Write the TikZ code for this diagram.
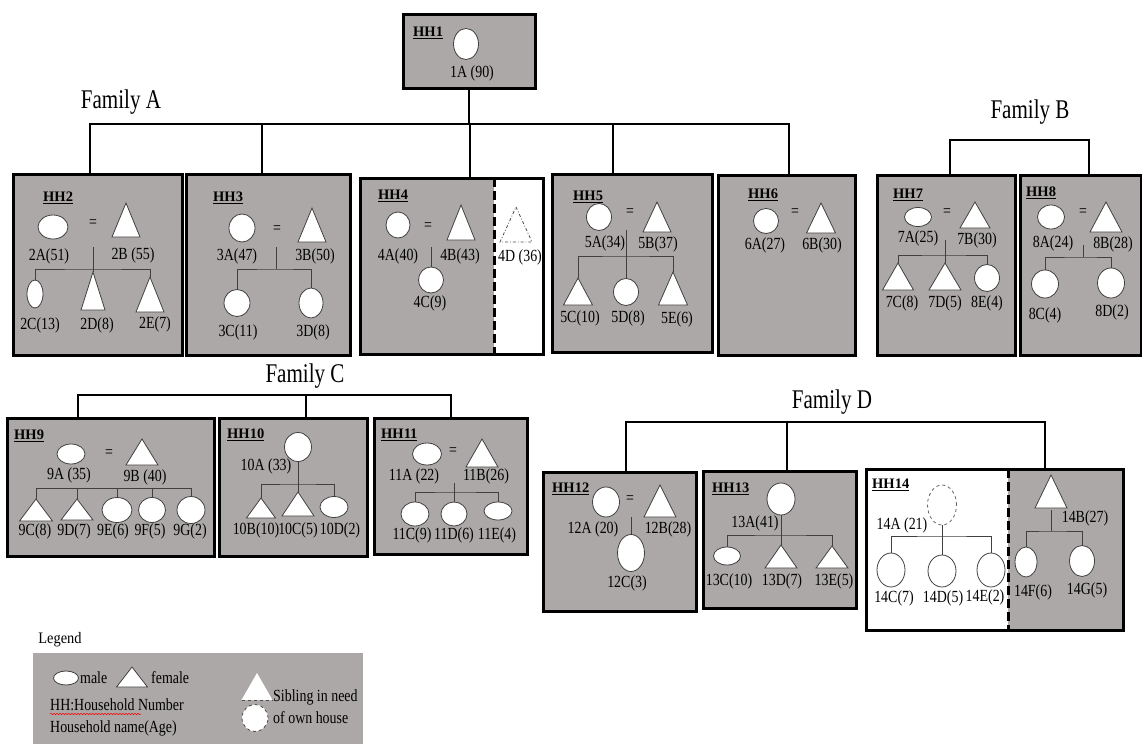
\documentclass[tikz,border=0pt]{standalone}
\usepackage{fontspec}
\setmainfont{Liberation Serif}
\newfontfamily\lbf[FakeStretch=0.82]{Liberation Serif}
\newfontfamily\fmf[FakeStretch=0.78]{Liberation Serif}
\newfontfamily\lgf[FakeStretch=0.9]{Liberation Serif}
\usetikzlibrary{shapes.geometric,decorations.pathmorphing}
\definecolor{hhgrey}{RGB}{172,168,168}
\newcommand\hhu[1]{\setbox0\hbox{\bfseries #1}\rlap{\rule[-2.6pt]{\wd0}{1.3pt}}\box0}
\newcommand\tri[5]{\draw[shp] (#2,#3) -- ++(#4,#5) -- ++(-2*#4,0) -- cycle; \coordinate (#1) at (#2,#3);}
\newcommand\pers[5]{\node[ell,minimum width=2*#4,minimum height=2*#5] (#1) at (#2,#3) {};}
\newcommand\lab[4]{\node[lab] (#1) at (#2,#3) {#4};}
\newcommand\hbx[5]{\node[hhbox,minimum width=#4-#2,minimum height=#5-#3] (#1) at (#2,#3) {};}
\tikzset{
 hhbox/.style={draw=black,line width=3pt,fill=hhgrey,rectangle,inner sep=0pt,outer sep=0pt,anchor=north west},
 fam/.style={line width=2.8pt,black},
 kin/.style={line width=0.8pt,black!75},
 shp/.style={draw=black!75,line width=0.8pt,fill=white},
 ell/.style={ellipse,shp,inner sep=0pt,outer sep=0pt},
 lab/.style={inner sep=0pt,font=\lbf\fontsize{17}{19}\selectfont},
 hhl/.style={inner sep=0pt,anchor=west,font=\fontsize{14.5}{16}\selectfont},
 famlab/.style={inner sep=0pt,font=\fmf\fontsize{27}{30}\selectfont},
 sepline/.style={line width=3pt,dash pattern=on 9pt off 4pt},
}
\begin{document}
\begin{tikzpicture}[x=1pt,y=-1pt]
\useasboundingbox (0,0) rectangle (1142,744);
% ---------- boxes ----------
\hbx{HH1}{403}{14}{535}{88}
\hbx{HH2}{13}{174}{182}{355}
\hbx{HH3}{186}{174}{350}{355}
\node[hhbox,fill=white,minimum width=183,minimum height=176] (HH4) at (360,178) {};
\coordinate (HH4d) at (494,178);
\fill[hhgrey] (HH4.north west) rectangle (HH4d |- HH4.south);
\draw[line width=3pt] (HH4.north west) rectangle (HH4.south east);
\draw[sepline] (HH4d) -- (HH4d |- HH4.south);
\hbx{HH5}{552}{174}{712}{352}
\hbx{HH6}{718}{175}{855}{355}
\hbx{HH7}{877}{175}{1015}{355}
\hbx{HH8}{1020}{175}{1141}{355}
\hbx{HH9}{7}{418}{214}{556}
\hbx{HH10}{219}{418}{367}{556}
\hbx{HH11}{374}{418}{527}{554}
\hbx{HH12}{543}{472}{696}{611}
\hbx{HH13}{703}{471}{856}{608}
\node[hhbox,fill=white,minimum width=257,minimum height=161] (HH14) at (866,469) {};
\coordinate (HH14d) at (1008,469);
\fill[hhgrey] (HH14d) rectangle (HH14.south east);
\draw[line width=3pt] (HH14.north west) rectangle (HH14.south east);
\draw[sepline] (HH14d) -- (HH14d |- HH14.south);
% ---------- family connectors ----------
\coordinate (FA1) at (90,124); \coordinate (FA2) at (262,124); \coordinate (FA3) at (470,124);
\coordinate (FA4) at (613,124); \coordinate (FA5) at (789,124);
\draw[fam] (FA1 |- HH2.north) -- (FA1) -- (FA5) -- (FA5 |- HH6.north);
\draw[fam] (HH1.south) -- (HH1.south |- FA1);
\draw[fam] (FA2) -- (FA2 |- HH3.north);
\draw[fam] (FA3) -- (FA3 |- HH4.north);
\draw[fam] (FA4) -- (FA4 |- HH5.north);
\node[famlab] (fA) at (121,102) {Family A};
\coordinate (FB1) at (950,140); \coordinate (FB2) at (1089,140);
\draw[fam] (FB1 |- HH7.north) -- (FB1) -- (FB2) -- (FB2 |- HH8.north);
\node[famlab] (fB) at (1030,112) {Family B};
\coordinate (FC1) at (78,395); \coordinate (FC2) at (306,395); \coordinate (FC3) at (451,395);
\draw[fam] (FC1 |- HH9.north) -- (FC1) -- (FC3) -- (FC3 |- HH11.north);
\draw[fam] (FC2) -- (FC2 |- HH10.north);
\node[famlab] (fC) at (305,376) {Family C};
\coordinate (FD1) at (626,422); \coordinate (FD2) at (787,422); \coordinate (FD3) at (1045,422);
\draw[fam] (FD1 |- HH12.north) -- (FD1) -- (FD3) -- (FD3 |- HH14.north);
\draw[fam] (FD2) -- (FD2 |- HH13.north);
\node[famlab] (fD) at (832,402) {Family D};
% ---------- HH1 ----------
\node[hhl] (h1) at (413,33) {\hhu{HH1}};
\pers{p1A}{466}{44}{12.5}{15.5}
\lab{l1A}{472}{73}{1A (90)}
% ---------- HH2 ----------
\node[hhl] (h2) at (43,198) {\hhu{HH2}};
\pers{p2A}{53}{227}{15}{12}
\lab{e2}{93}{224}{=}
\tri{p2B}{126}{203}{14}{34}
\lab{l2A}{49}{256}{2A(51)}
\lab{l2B}{133}{255}{2B (55)}
\coordinate (k2) at (93,247); \coordinate (b2) at (93,269);
\pers{p2C}{35}{294}{8}{14}
\tri{p2D}{93}{272}{12}{38}
\tri{p2E}{150}{277}{14}{35}
\draw[kin] (k2) -- (p2D);
\draw[kin] (p2C.north) |- (b2) -| (p2E);
\lab{l2C}{40}{325}{2C(13)}
\lab{l2D}{97}{325}{2D(8)}
\lab{l2E}{155}{324}{2E(7)}
% ---------- HH3 ----------
\node[hhl] (h3) at (213,198) {\hhu{HH3}};
\pers{p3A}{242}{228}{13}{14}
\lab{e3}{277}{230}{=}
\tri{p3B}{312}{208}{14}{34}
\lab{l3A}{237}{256}{3A(47)}
\lab{l3B}{315}{256}{3B(50)}
\coordinate (k3) at (276,247); \coordinate (b3) at (276,269);
\pers{p3C}{237}{303}{13}{13.5}
\pers{p3D}{311}{303}{12}{15}
\draw[kin] (k3) -- (b3);
\draw[kin] (p3C.north) |- (b3) -| (p3D.north);
\lab{l3C}{238}{332}{3C(11)}
\lab{l3D}{313}{332}{3D(8)}
% ---------- HH4 ----------
\node[hhl] (h4) at (378,196) {\hhu{HH4}};
\pers{p4A}{398}{225}{12}{13}
\lab{e4}{428}{227}{=}
\tri{p4B}{461}{205}{14}{35}
\lab{l4A}{398}{256}{4A(40)}
\lab{l4B}{460}{256}{4B(43)}
\coordinate (k4) at (431,247);
\pers{p4C}{431}{280}{12.5}{13}
\draw[kin] (k4) -- (p4C.north);
\lab{l4C}{430}{303}{4C(9)}
\draw[draw=black!70,line width=0.8pt,fill=white,dash dot] (516,207) -- ++(16,35) -- ++(-32,0) -- cycle;
\coordinate (p4D) at (516,207);
\lab{l4D}{520}{257}{4D (36)}
% ---------- HH5 ----------
\node[hhl] (h5) at (573,197) {\hhu{HH5}};
\pers{p5A}{599}{217}{12.5}{13.5}
\lab{e5}{630}{213}{=}
\tri{p5B}{657}{202}{14}{30}
\lab{l5A}{605}{243}{5A(34)}
\lab{l5B}{658}{244}{5B(37)}
\coordinate (k5) at (626,230); \coordinate (b5) at (626,256);
\tri{p5C}{578}{278}{14.5}{27}
\pers{p5D}{626}{292}{12.5}{13.5}
\tri{p5E}{673}{272}{14.5}{33}
\draw[kin] (k5) -- (p5D.north);
\draw[kin] (p5C) |- (b5) -| (p5E);
\lab{l5C}{580}{318}{5C(10)}
\lab{l5D}{628}{318}{5D(8)}
\lab{l5E}{677}{319}{5E(6)}
% ---------- HH6 ----------
\node[hhl] (h6) at (748,195) {\hhu{HH6}};
\pers{p6A}{766}{221}{12.5}{12.5}
\lab{e6}{795}{213}{=}
\tri{p6B}{821}{203}{14.5}{30}
\lab{l6A}{765}{245}{6A(27)}
\lab{l6B}{822}{245}{6B(30)}
% ---------- HH7 ----------
\node[hhl] (h7) at (893,195) {\hhu{HH7}};
\pers{p7A}{918}{217}{13.5}{9.5}
\lab{e7}{947}{213}{=}
\tri{p7B}{975}{202}{15}{26}
\lab{l7A}{918}{238}{7A(25)}
\lab{l7B}{977}{240}{7B(30)}
\coordinate (k7) at (945,240); \coordinate (b7) at (945,255);
\tri{p7C}{898}{263}{15.5}{27}
\tri{p7D}{945}{263}{16}{27}
\pers{p8E}{987}{278}{12.5}{13.5}
\draw[kin] (k7) -- (p7D);
\draw[kin] (p7C) |- (b7) -| (p8E.north);
\lab{l7C}{902}{303}{7C(8)}
\lab{l7D}{945}{303}{7D(5)}
\lab{l8E}{987}{303}{8E(4)}
% ---------- HH8 ----------
\node[hhl] (h8) at (1026,193) {\hhu{HH8}};
\pers{p8A}{1051}{217}{13.5}{12}
\lab{e8}{1083}{213}{=}
\tri{p8B}{1106}{202}{16}{30}
\lab{l8A}{1053}{243}{8A(24)}
\lab{l8B}{1113}{244}{8B(28)}
\coordinate (k8) at (1083,245); \coordinate (b8) at (1083,257);
\pers{p8C}{1045}{284}{13.5}{14}
\pers{p8D}{1111}{283}{13.5}{15}
\draw[kin] (k8) -- (b8);
\draw[kin] (p8C.north) |- (b8) -| (p8D.north);
\lab{l8C}{1045}{315}{8C(4)}
\lab{l8D}{1112}{312}{8D(2)}
% ---------- HH9 ----------
\node[hhl] (h9) at (14,436) {\hhu{HH9}};
\pers{p9A}{71}{454}{14}{10}
\lab{e9}{109}{454}{=}
\tri{p9B}{142}{439}{16}{26}
\lab{l9A}{69}{475}{9A (35)}
\lab{l9B}{145}{477}{9B (40)}
\coordinate (b9) at (36,488);
\tri{p9C}{36}{499}{16.5}{22}
\tri{p9D}{77}{499}{16}{21}
\pers{p9E}{117}{510}{15}{12.5}
\pers{p9F}{152}{510}{13.5}{12.5}
\pers{p9G}{191}{510}{14}{13.5}
\draw[kin] (p9C) -- (b9) -| (p9G.north);
\draw[kin] (p9D) -- (p9D |- b9);
\draw[kin] (p9E.north) -- (p9E.north |- b9);
\draw[kin] (p9F.north) -- (p9F.north |- b9);
\lab{l9C}{35}{531}{9C(8)}
\lab{l9D}{74}{531}{9D(7)}
\lab{l9E}{113}{531}{9E(6)}
\lab{l9F}{150}{531}{9F(5)}
\lab{l9G}{190}{531}{9G(2)}
% ---------- HH10 ----------
\node[hhl] (h10) at (227,435) {\hhu{HH10}};
\pers{p10A}{298}{447}{13.5}{14.5}
\lab{l10A}{266}{466}{10A (33)}
\coordinate (b10) at (298,484);
\tri{p10B}{261}{498}{14.5}{20}
\tri{p10C}{298}{492}{16}{24}
\pers{p10D}{334}{507}{14}{10.5}
\draw[kin] (p10A.south) -- (p10C);
\draw[kin] (p10B) |- (b10) -| (p10D.north);
\lab{l10B}{256}{530}{10B(10)}
\lab{l10C}{298}{530}{10C(5)}
\lab{l10D}{340}{530}{10D(2)}
% ---------- HH11 ----------
\node[hhl] (h11) at (381,435) {\hhu{HH11}};
\pers{p11A}{427}{454}{14.5}{11}
\lab{e11}{453}{452}{=}
\tri{p11B}{482}{439}{16}{28}
\lab{l11A}{414}{476}{11A (22)}
\lab{l11B}{486}{476}{11B(26)}
\coordinate (k11) at (454,483); \coordinate (b11) at (454,492);
\pers{p11C}{415}{514}{14}{12}
\pers{p11D}{454}{514}{13}{12}
\pers{p11E}{498}{511}{14}{9}
\draw[kin] (k11) -- (p11D.north);
\draw[kin] (p11C.north) |- (b11) -| (p11E.north);
\lab{l11C}{412}{535}{11C(9)}
\lab{l11D}{454}{535}{11D(6)}
\lab{l11E}{497}{535}{11E(4)}
% ---------- HH12 ----------
\node[hhl] (h12) at (552,489) {\hhu{HH12}};
\pers{p12A}{606}{502}{13.5}{15}
\lab{e12}{630}{500}{=}
\tri{p12B}{660}{485}{16}{32}
\lab{l12A}{593}{529}{12A (20)}
\lab{l12B}{668}{529}{12B(28)}
\coordinate (k12) at (631,517);
\pers{p12C}{631}{553}{13.5}{18.5}
\draw[kin] (k12) -- (p12C.north);
\lab{l12C}{627}{583}{12C(3)}
% ---------- HH13 ----------
\node[hhl] (h13) at (712,489) {\hhu{HH13}};
\pers{p13A}{781}{499}{14}{16}
\lab{l13A}{755}{523}{13A(41)}
\coordinate (b13) at (781,535);
\pers{p13C}{727}{556}{13.5}{9}
\tri{p13D}{781}{545}{16}{23}
\tri{p13E}{832}{546}{16}{22}
\draw[kin] (p13A.south) -- (p13D);
\draw[kin] (p13C.north) |- (b13) -| (p13E);
\lab{l13C}{729}{581}{13C(10)}
\lab{l13D}{782}{581}{13D(7)}
\lab{l13E}{834}{581}{13E(5)}
% ---------- HH14 ----------
\node[hhl] (h14) at (872,485) {\hhu{HH14}};
\node[ellipse,draw=black!60,dashed,line width=0.8pt,fill=white,inner sep=0pt,minimum width=29,minimum height=40] (p14A) at (942,505) {};
\lab{l14A}{902}{525}{14A (21)}
\coordinate (b14) at (942,536);
\pers{p14C}{891}{570}{14}{17}
\pers{p14D}{942}{571}{14}{16}
\pers{p14E}{991}{570}{14}{17}
\draw[kin] (p14A.south) -- (p14D.north);
\draw[kin] (p14C.north) |- (b14) -| (p14E.north);
\lab{l14C}{894}{598}{14C(7)}
\lab{l14D}{943}{598}{14D(5)}
\lab{l14E}{985}{597}{14E(2)}
\tri{p14B}{1051}{475}{16}{33}
\coordinate (k14) at (1051,510); \coordinate (c14) at (1051,531);
\pers{p14F}{1026}{562}{11}{15}
\pers{p14G}{1082}{561}{12.5}{15.5}
\draw[kin] (k14) -- (c14);
\draw[kin] (p14F.north) |- (c14) -| (p14G.north);
\lab{l14B}{1085}{518}{14B(27)}
\lab{l14F}{1033}{592}{14F(6)}
\lab{l14G}{1087}{590}{14G(5)}
% ---------- legend ----------
\node[inner sep=0pt,font=\lgf\fontsize{16}{18}\selectfont] (lg) at (60,640) {Legend};
\node[rectangle,fill=hhgrey,inner sep=0pt,anchor=north west,minimum width=330,minimum height=91] (LG) at (33,653) {};
\pers{lm}{66}{678}{12.5}{7}
\node[lab,anchor=west] (lmt) at (80,678) {male};
\tri{lf}{132}{667}{15.5}{20}
\node[lab,anchor=west] (lft) at (151,678) {female};
\node[lab,anchor=west] (lhh) at (50,705) {HH:Household Number};
\coordinate (sq1) at (50,714); \coordinate (sq2) at (141,714);
\draw[red,line width=0.5pt,decorate,decoration={snake,amplitude=0.7pt,segment length=3pt}] (sq1) -- (sq2);
\node[lab,anchor=west] (lhn) at (50,728) {Household name(Age)};
\fill[white] (257,673) -- ++(15.5,27) -- ++(-31,0) -- cycle;
\coordinate (ls1) at (241.5,700); \coordinate (ls2) at (272.5,700);
\draw[black!70,line width=0.8pt,dashed] (ls1) -- (ls2);
\node[ellipse,draw=black!70,dashed,line width=0.8pt,fill=white,inner sep=0pt,minimum width=26,minimum height=27] (lc) at (255,718) {};
\node[lab,anchor=west] (ls) at (273,697) {Sibling in need};
\node[lab,anchor=west] (lo) at (273,718) {of own house};
\end{tikzpicture}
\end{document}
